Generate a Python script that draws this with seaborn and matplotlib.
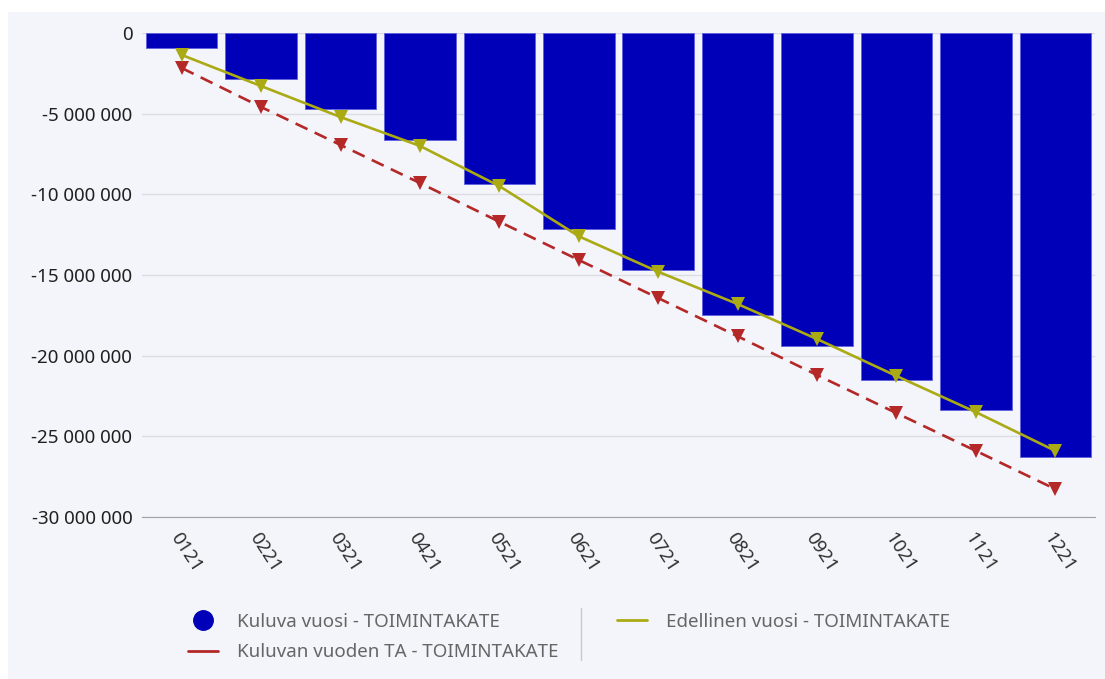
import numpy as np
import pandas as pd
import matplotlib.pyplot as plt
import seaborn as sns
from matplotlib.lines import Line2D
from matplotlib.patches import Rectangle
from matplotlib.ticker import FuncFormatter

# Data
months = ["0121", "0221", "0321", "0421", "0521", "0621",
          "0721", "0821", "0921", "1021", "1121", "1221"]
kuluva = [-0.93e6, -2.85e6, -4.71e6, -6.63e6, -9.36e6, -12.15e6,
          -14.69e6, -17.48e6, -19.40e6, -21.51e6, -23.37e6, -26.29e6]
edellinen = [-1.36e6, -3.29e6, -5.21e6, -7.00e6, -9.49e6, -12.60e6,
             -14.80e6, -16.80e6, -18.97e6, -21.26e6, -23.50e6, -25.90e6]
budjetti = [-2.17e6, -4.59e6, -6.94e6, -9.30e6, -11.70e6, -14.07e6,
            -16.43e6, -18.80e6, -21.20e6, -23.56e6, -25.90e6, -28.27e6]

df = pd.DataFrame({
    "Kuukausi": months,
    "pos": np.arange(len(months)),
    "Kuluva": kuluva,
    "Edellinen": edellinen,
    "TA": budjetti,
})

bg = "#f4f5fa"
blue = "#0000b8"
olive = "#aaaa14"
red = "#b42828"
W, H = 1105, 679

sns.set_style("white")
plt.rcParams["font.family"] = ["Noto Sans", "DejaVu Sans"]

fig = plt.figure(figsize=(W / 100, H / 100), dpi=100)
fig.patch.set_facecolor("white")
fig.add_artist(Rectangle((8 / W, 0), 1, 1 - 12 / H,
                         transform=fig.transFigure, facecolor=bg,
                         edgecolor="none", zorder=0))

ax = fig.add_axes([142 / W, 1 - 517 / H, (1095 - 142) / W, (517 - 33) / H])
ax.set_facecolor(bg)

sns.barplot(data=df, x="Kuukausi", y="Kuluva", color=blue, width=0.9,
            saturation=1, edgecolor="#6060e0", linewidth=0.6, ax=ax, zorder=2)

sns.lineplot(data=df, x="pos", y="Edellinen", color=olive, linewidth=1.9,
             marker="v", markersize=10, markeredgewidth=0, ax=ax, zorder=4)
sns.lineplot(data=df, x="pos", y="TA", color=red, linewidth=1.9,
             marker="v", markersize=10, markeredgewidth=0, ax=ax, zorder=3)
ax.lines[-1].set_dashes((5, 3))

ax.set_xlim(-0.5, 11.5)
ax.set_ylim(-30e6, 0)
ax.set_yticks(np.arange(-30e6, 1, 5e6))
ax.yaxis.set_major_formatter(FuncFormatter(lambda v, p: f"{int(v):,}".replace(",", " ")))
ax.grid(axis="y", color="#dcdde2", linewidth=1, zorder=0)
ax.set_axisbelow(True)

for s in ["top", "right", "left"]:
    ax.spines[s].set_visible(False)
ax.spines["bottom"].set_color("#a0a0a0")

ax.tick_params(axis="y", length=0, pad=7, labelsize=13.5, labelcolor="#202020")
ax.set_xticks(np.arange(len(months)))
ax.set_xticklabels(months, rotation=-57, ha="left", va="top",
                   rotation_mode="anchor", fontsize=13.5, color="#303030")
ax.tick_params(axis="x", length=0, pad=9)
ax.set_xticks(np.arange(-0.5, 12, 1), minor=True)
ax.tick_params(axis="x", which="minor", length=5, color="#a0a0a0", width=1)
ax.set_xlabel("")
ax.set_ylabel("")

# Legend at the bottom: two blocks with a separator
leg_kw = dict(frameon=False, fontsize=13.5, labelcolor="#666666",
              handlelength=1.6, handletextpad=1.0, labelspacing=0.65,
              borderpad=0, borderaxespad=0, loc="upper left")
h1 = [Line2D([], [], marker="o", linestyle="none", color=blue, markersize=14),
      Line2D([], [], color=red, linewidth=2)]
l1 = ["Kuluva vuosi - TOIMINTAKATE", "Kuluvan vuoden TA - TOIMINTAKATE"]
fig.legend(h1, l1, bbox_to_anchor=(188 / W, 1 - 613 / H), **leg_kw)
h2 = [Line2D([], [], color=olive, linewidth=2)]
l2 = ["Edellinen vuosi - TOIMINTAKATE"]
fig.legend(h2, l2, bbox_to_anchor=(617 / W, 1 - 613 / H), **leg_kw)
fig.add_artist(Line2D([581 / W, 581 / W], [1 - 608 / H, 1 - 660 / H],
                      transform=fig.transFigure, color="#c8c8c8", linewidth=1))

fig.savefig("out.png", dpi=100, facecolor=fig.get_facecolor())
